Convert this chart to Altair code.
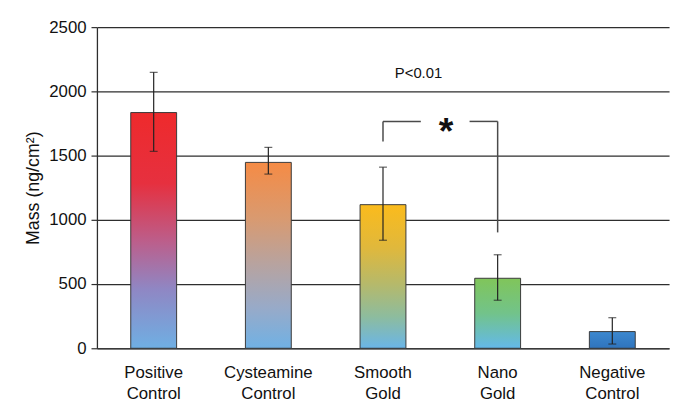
import altair as alt
import pandas as pd

categories = ["Positive Control", "Cysteamine Control", "Smooth Gold", "Nano Gold", "Negative Control"]
mass = [1835, 1447, 1118, 545, 130]
err_low = [1533, 1356, 841, 374, 33]
err_high = [2148, 1564, 1410, 728, 238]
y_ticks = [0, 500, 1000, 1500, 2000, 2500]

# bracket annotation segments, x in category-index units (Smooth Gold = 2, Nano Gold = 3)
seg_x = [2.0, 2.0, 2.755, 3.0]
seg_x2 = [2.0, 2.33, 3.0, 3.0]
seg_y = [1610, 1766, 1766, 902]
seg_y2 = [1766, 1766, 1766, 1766]
star_pos = (2.55, 1590)
p_text_pos = (2.31, 2140)

# gradient stops per bar, top -> bottom
bar_gradients = [
    [("#ee2a2c", 0.0), ("#e6303f", 0.3), ("#bb5f8c", 0.55), ("#8f87c4", 0.75), ("#6fafe3", 1.0)],
    [("#f58b45", 0.0), ("#d99a70", 0.3), ("#b7a3a0", 0.55), ("#98aac8", 0.78), ("#70b1e4", 1.0)],
    [("#fbbb1c", 0.0), ("#e0b83c", 0.3), ("#b6b96a", 0.55), ("#8dbc9e", 0.78), ("#6ab5e8", 1.0)],
    [("#80c55a", 0.0), ("#72c38a", 0.5), ("#64b9ea", 1.0)],
    [("#3c88cf", 0.0), ("#2f74bd", 1.0)],
]

df = pd.DataFrame({"group": categories, "mass": mass, "lo": err_low, "hi": err_high})
seg_df = pd.DataFrame({"x": seg_x, "x2": seg_x2, "y": seg_y, "y2": seg_y2})
star_df = pd.DataFrame({"x": [star_pos[0]], "y": [star_pos[1]]})
p_df = pd.DataFrame({"x": [p_text_pos[0]], "y": [p_text_pos[1]]})

FONT = "Liberation Sans"
YTITLE = "Mass (ng/cm²)"
LINE = "#2e2e2e"
PLOT_W = 579

xscale = alt.Scale(domain=categories, paddingInner=0.6, paddingOuter=0.295, range=[0, PLOT_W])
yscale = alt.Scale(domain=[0, 2500], nice=False)
xq_scale = alt.Scale(domain=[-0.495, 4.495], range=[0, PLOT_W], nice=False, zero=False)

x_main = alt.X(
    "group:N",
    scale=xscale,
    title=None,
    axis=alt.Axis(
        labelAngle=0,
        labelExpr="split(datum.label, ' ')",
        labelFont=FONT,
        labelFontSize=17,
        labelColor="#111111",
        labelLineHeight=21,
        labelPadding=17,
        ticks=False,
        tickSize=0,
        domainColor=LINE,
        domainWidth=1.3,
        grid=False,
    ),
)
y_main = alt.Y(
    "mass:Q",
    scale=yscale,
    title=YTITLE,
    axis=alt.Axis(
        values=y_ticks,
        format="d",
        grid=True,
        gridColor=LINE,
        gridWidth=1.2,
        tickSize=6,
        tickColor=LINE,
        tickWidth=1.2,
        domainColor=LINE,
        domainWidth=1.3,
        labelFont=FONT,
        labelFontSize=17,
        labelColor="#111111",
        labelPadding=5,
        titleFont=FONT,
        titleFontSize=18,
        titleFontWeight="normal",
        titleColor="#111111",
        titleX=-64,
        titleY=162.5,
        titleAngle=-90,
        titleBaseline="middle",
        titleAlign="center",
    ),
)
x_plain = alt.X("group:N", scale=xscale, title=None)


def yq(field):
    return alt.Y(field, scale=yscale, title=YTITLE)


bar_layers = []
for i, (cat, stops) in enumerate(zip(categories, bar_gradients)):
    grad = alt.Gradient(
        gradient="linear",
        x1=0, y1=0, x2=0, y2=1,
        stops=[alt.GradientStop(color=c, offset=o) for c, o in stops],
    )
    bar_layers.append(
        alt.Chart(df)
        .transform_filter(alt.datum.group == cat)
        .mark_bar(fill=grad, stroke="#3a3a3a", strokeWidth=1)
        .encode(x=x_main if i == 0 else x_plain, y=y_main if i == 0 else yq("mass:Q"))
    )

err_rule = alt.Chart(df).mark_rule(color="#222222", strokeWidth=1.2).encode(
    x=x_plain, y=yq("lo:Q"), y2="hi:Q"
)
cap_lo = alt.Chart(df).mark_tick(color="#222222", size=8, thickness=1.2).encode(x=x_plain, y=yq("lo:Q"))
cap_hi = alt.Chart(df).mark_tick(color="#222222", size=8, thickness=1.2).encode(x=x_plain, y=yq("hi:Q"))

bars = alt.layer(*bar_layers, err_rule, cap_lo, cap_hi)

xq = alt.X("x:Q", scale=xq_scale, axis=None)
segs = alt.Chart(seg_df).mark_rule(color="#4a4a4a", strokeWidth=1.5).encode(
    x=xq, x2="x2:Q", y=yq("y:Q"), y2="y2:Q"
)
star = alt.Chart(star_df).mark_text(
    text="*", font=FONT, fontSize=38, fontWeight="bold", color="#111111", baseline="alphabetic", align="center"
).encode(x=xq, y=yq("y:Q"))
ptext = alt.Chart(p_df).mark_text(
    text="P<0.01", font=FONT, fontSize=15, color="#111111", baseline="middle", align="center"
).encode(x=xq, y=yq("y:Q"))
annot = alt.layer(segs, star, ptext)

chart = (
    alt.layer(bars, annot)
    .resolve_scale(x="independent")
    .properties(
        width=584,
        height=325,
        padding={"left": 90, "top": 17, "right": 0, "bottom": 52},
        autosize=alt.AutoSizeParams(type="none"),
        background="white",
    )
    .configure_view(stroke=None)
)

chart.save("out.html", embed_options={"renderer": "svg", "actions": False})
